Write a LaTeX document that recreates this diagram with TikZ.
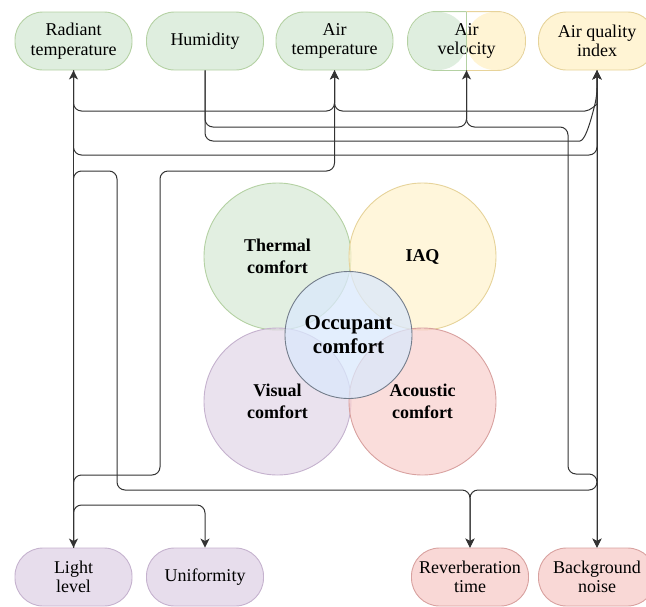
\documentclass[tikz,border=0pt]{standalone}
\usepackage{fontspec}
\setmainfont{Liberation Serif}
\usetikzlibrary{arrows.meta}
\definecolor{gfill}{HTML}{D5E8D4}\definecolor{gline}{HTML}{82B366}
\definecolor{yfill}{HTML}{FFF2CC}\definecolor{yline}{HTML}{D6B656}
\definecolor{pfill}{HTML}{E1D5E7}\definecolor{pline}{HTML}{9673A6}
\definecolor{rfill}{HTML}{F8CECC}\definecolor{rline}{HTML}{B85450}
\definecolor{bfill}{HTML}{DAE8FC}\definecolor{bline}{HTML}{5A6676}
\definecolor{conncol}{HTML}{333333}
\begin{document}
\begin{tikzpicture}[x=1pt,y=-1pt,
  >={Stealth[length=9pt,width=9pt,inset=2.5pt]},
  param/.style={rectangle, rounded corners=28pt, minimum width=117pt, minimum height=58pt,
    inner sep=1pt, align=center, font=\fontsize{18}{19.5}\selectfont, line width=0.9pt},
  gnode/.style={param, fill=gfill!75!white, draw=gline!60!white},
  ynode/.style={param, fill=yfill!85!white, draw=yline!60!white},
  pnode/.style={param, fill=pfill!80!white, draw=pline!55!white},
  rnode/.style={param, fill=rfill!80!white, draw=rline!55!white},
  area/.style={circle, inner sep=0pt, minimum size=147pt, align=center, line width=0.9pt,
    fill opacity=0.7, text opacity=1, font=\fontsize{18}{21.5}\selectfont\bfseries},
  link/.style={draw=conncol, line width=1pt, rounded corners=8pt}
]
\useasboundingbox (0,0) rectangle (646,606);

% top parameters
\node[gnode] (rad) at (73.5,41) {Radiant\\temperature};
\node[gnode] (hum) at (205,41) {Humidity};
\node[gnode] (atemp) at (334.5,41) {Air\\temperature};
\node[param, path picture={
   \fill[gfill!75!white] (path picture bounding box.south west) rectangle (path picture bounding box.north);
   \fill[yfill!85!white] (path picture bounding box.north) rectangle (path picture bounding box.south east);}]
  (avel) at (466.5,41) {Air\\velocity};
\begin{scope}
  \clip (400,5) rectangle (466.5,80);
  \draw[gline!60!white, line width=0.9pt, rounded corners=28pt] (avel.north west) rectangle (avel.south east);
\end{scope}
\begin{scope}
  \clip (466.5,5) rectangle (535,80);
  \draw[yline!60!white, line width=0.9pt, rounded corners=28pt] (avel.north west) rectangle (avel.south east);
\end{scope}
\draw[gline!60!white, line width=0.9pt] (avel.north) -- (avel.south);
\node[ynode] (aqi) at (597,41) {Air quality\\index};

% bottom parameters
\node[pnode] (lig) at (73.5,577) {Light\\level};
\node[pnode] (uni) at (205,577) {Uniformity};
\node[rnode] (rev) at (470,577) {Reverberation\\time};
\node[rnode] (bgn) at (597,577) {Background\\noise};

% comfort areas
\node[area, fill=gfill, draw=gline!60!white] (thermal) at (277.5,256.5) {Thermal\\comfort};
\node[area, fill=yfill, draw=yline!60!white] (iaq) at (422.5,256.5) {IAQ};
\node[area, fill=pfill, draw=pline!55!white] (visual) at (277.5,401.5) {Visual\\comfort};
\node[area, fill=rfill, draw=rline!55!white] (acoustic) at (422.5,401.5) {Acoustic\\comfort};
\node[area, minimum size=127pt, fill=bfill, fill opacity=0.75, draw=bline!85!white,
  font=\fontsize{21}{24}\selectfont\bfseries] (occ) at (348.5,335) {Occupant\\comfort};

% connectors
\draw[link,<->] (rad) -- (lig);
\draw[link,<->] (aqi) -- (bgn);
\draw[link,->] (rad.south) |- (334.5,111) -- (atemp.south);
\draw[link,->] (atemp.south) |- (577,111) .. controls (590,111) and (597,104) .. (597,96) -- (aqi.south);
\draw[link,->] (hum.south) |- (466.5,127) -- (avel.south);
\draw[link,->] (avel.south) |- (568,127) |- (597,474) -- (bgn.north);
\draw[link,->] (hum.south) |- (572,141) .. controls (586,141) and (593,112) .. (597,96) -- (aqi.south);
\draw[link,->] (rad.south) |- (597,155) -- (aqi.south);
\draw[link,->] (lig.north) |- (117,171) |- (470,490) -- (rev.north);
\draw[link,->] (lig.north) |- (160,475) |- (334.5,171) -- (atemp.south);
\draw[link,->] (lig.north) |- (205,505) -- (uni.north);
\draw[link,->] (aqi.south) |- (470,490) -- (rev.north);
\end{tikzpicture}
\end{document}
